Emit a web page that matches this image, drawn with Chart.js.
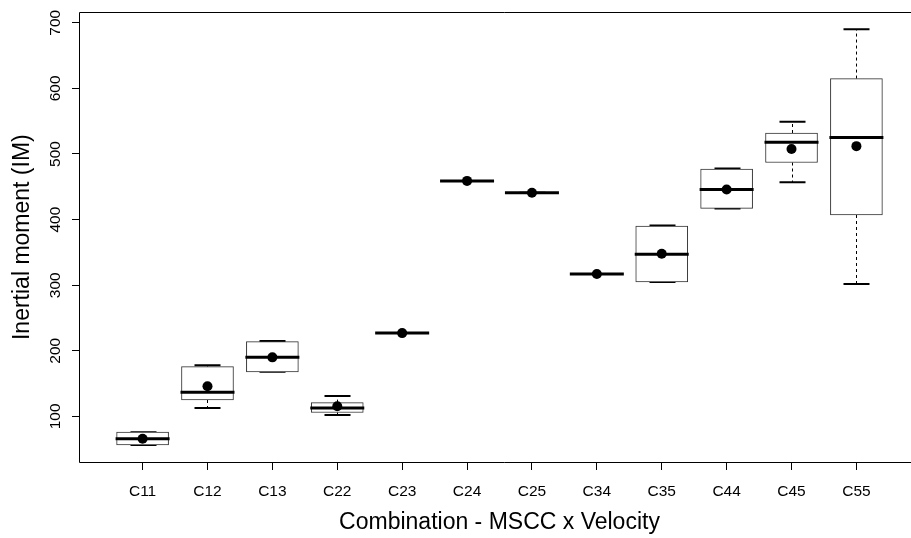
<!DOCTYPE html>
<html>
<head>
<meta charset="utf-8">
<title>Inertial moment by combination</title>
<script src="https://cdn.jsdelivr.net/npm/chart.js@4.4.0/dist/chart.umd.min.js"></script>
<style>
  html, body { margin: 0; padding: 0; background: #fff; overflow: hidden; }
  #wrap { width: 911px; height: 538px; overflow: hidden; }
  canvas { display: block; }
</style>
</head>
<body>
<div id="wrap"><canvas id="myChart" width="930" height="538"></canvas></div>
<script>
// Combinaisons MSCC x Velocity (axe x)
var categories = ['C11', 'C12', 'C13', 'C22', 'C23', 'C24', 'C25', 'C34', 'C35', 'C44', 'C45', 'C55'];

// Valeurs des boîtes
var whiskerLow  = [56.5, 113, 168, 102, 227, 459, 441, 317, 305, 417, 457, 302];
var boxLow      = [56.5, 125, 168, 106, 227, 459, 441, 317, 305, 417, 487, 407];
var medians     = [66,   137, 190, 113, 227, 459, 441, 317, 347, 446, 518, 525];
var boxHigh     = [76,   176, 214, 121, 227, 459, 441, 317, 390, 477, 532, 615];
var whiskerHigh = [76,   178, 215, 131, 227, 459, 441, 317, 391, 478, 549, 690];
var means       = [66,   146, 190, 115.6, 227, 459, 441, 317, 348, 446, 507.6, 512];

// Graduations de l'axe y
var yTicks = [100, 200, 300, 400, 500, 600, 700];

var police = 'Liberation Sans, Arimo, Arial, sans-serif';

// Moustaches, traits des extrémités, médianes et cadre
var boxPlugin = {
    id: 'boxplot',
    beforeDatasetsDraw: function (chart) {
        var ctx = chart.ctx;
        var x = chart.scales.x;
        var y = chart.scales.y;
        ctx.save();
        ctx.strokeStyle = '#000';
        categories.forEach(function (c, i) {
            var px = Math.round(x.getPixelForValue(i + 1)) + 0.5;
            // moustaches en pointillé
            ctx.lineWidth = 1;
            ctx.setLineDash([3, 3]);
            ctx.beginPath();
            ctx.moveTo(px, y.getPixelForValue(boxHigh[i]));
            ctx.lineTo(px, y.getPixelForValue(whiskerHigh[i]));
            ctx.moveTo(px, y.getPixelForValue(boxLow[i]));
            ctx.lineTo(px, y.getPixelForValue(whiskerLow[i]));
            ctx.stroke();
            // extrémités
            ctx.setLineDash([]);
            ctx.lineWidth = 2;
            ctx.beginPath();
            ctx.moveTo(px - 13, y.getPixelForValue(whiskerHigh[i]));
            ctx.lineTo(px + 13, y.getPixelForValue(whiskerHigh[i]));
            ctx.moveTo(px - 13, y.getPixelForValue(whiskerLow[i]));
            ctx.lineTo(px + 13, y.getPixelForValue(whiskerLow[i]));
            ctx.stroke();
        });
        ctx.restore();
    },
    afterDatasetDraw: function (chart, args) {
        if (args.meta.type !== 'bar') return;
        var ctx = chart.ctx;
        var x = chart.scales.x;
        var y = chart.scales.y;
        ctx.save();
        ctx.strokeStyle = '#000';
        ctx.lineWidth = 3;
        categories.forEach(function (c, i) {
            var px = x.getPixelForValue(i + 1);
            var py = y.getPixelForValue(medians[i]);
            ctx.beginPath();
            ctx.moveTo(px - 27, py);
            ctx.lineTo(px + 27, py);
            ctx.stroke();
        });
        ctx.restore();
    },
    afterDraw: function (chart) {
        // cadre : gauche, haut, bas (le côté droit sort de l'image)
        var a = chart.chartArea;
        var ctx = chart.ctx;
        var l = Math.round(a.left) + 0.5;
        var t = Math.round(a.top) + 0.5;
        var b = Math.round(a.bottom) + 0.5;
        ctx.save();
        ctx.strokeStyle = '#000';
        ctx.lineWidth = 1;
        ctx.beginPath();
        ctx.moveTo(chart.width, t);
        ctx.lineTo(l, t);
        ctx.lineTo(l, b);
        ctx.lineTo(chart.width, b);
        ctx.stroke();
        ctx.restore();
    }
};

var ctx = document.getElementById('myChart').getContext('2d');

var myChart = new Chart(ctx, {
    type: 'bar',
    data: {
        datasets: [{
            type: 'scatter',
            label: 'Moyenne',
            data: categories.map(function (c, i) { return { x: i + 1, y: means[i] }; }),
            pointRadius: 5,
            pointBackgroundColor: '#000',
            pointBorderWidth: 0,
            showLine: false,
            order: 0
        }, {
            type: 'bar',
            label: 'Boîte',
            data: categories.map(function (c, i) { return { x: i + 1, y: [boxLow[i], boxHigh[i]] }; }),
            backgroundColor: '#fff',
            borderColor: '#333',
            borderWidth: 1,
            borderSkipped: false,
            barThickness: 52,
            order: 1
        }]
    },
    options: {
        responsive: false,
        animation: false,
        devicePixelRatio: 1,
        layout: { padding: { top: 9, right: 10, left: 0, bottom: 0 } },
        plugins: {
            legend: { display: false },
            tooltip: { enabled: false }
        },
        scales: {
            x: {
                type: 'linear',
                min: 0.02,
                max: 12.98,
                offset: false,
                afterFit: function (scale) { scale.height = 76; },
                afterBuildTicks: function (scale) {
                    scale.ticks = categories.map(function (c, i) { return { value: i + 1 }; });
                },
                grid: { display: true, drawOnChartArea: false, drawTicks: true, tickLength: 8, color: '#000', offset: false },
                border: { display: false },
                ticks: {
                    autoSkip: false,
                    maxRotation: 0,
                    minRotation: 0,
                    padding: 12,
                    color: '#000',
                    font: { family: police, size: 15.5 },
                    callback: function (value, index) { return categories[index]; }
                },
                title: {
                    display: true,
                    text: 'Combination - MSCC x Velocity',
                    color: '#000',
                    font: { family: police, size: 23 },
                    padding: { top: 0, bottom: 2 }
                }
            },
            y: {
                type: 'linear',
                min: 30.5,
                max: 716,
                afterFit: function (scale) { scale.width = 79; },
                afterBuildTicks: function (scale) {
                    scale.ticks = yTicks.map(function (v) { return { value: v }; });
                },
                grid: { display: true, drawOnChartArea: false, drawTicks: true, tickLength: 7, color: '#000' },
                border: { display: false },
                ticks: {
                    autoSkip: false,
                    minRotation: 90,
                    maxRotation: 90,
                    crossAlign: 'center',
                    padding: 3,
                    color: '#000',
                    font: { family: police, size: 15.5 },
                    callback: function (value) { return String(value); }
                },
                title: {
                    display: true,
                    text: 'Inertial moment (IM)',
                    color: '#000',
                    font: { family: police, size: 23 },
                    padding: { top: 9, bottom: 0 }
                }
            }
        }
    },
    plugins: [boxPlugin]
});
</script>
</body>
</html>
